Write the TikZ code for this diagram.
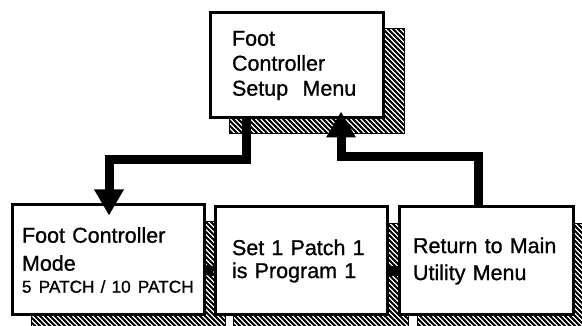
\documentclass[tikz,border=0pt]{standalone}
\usepackage{fontspec}
\setmainfont[FakeBold=0.9]{Liberation Sans}
\usetikzlibrary{arrows.meta,patterns,backgrounds}
\pgfdeclarepatternformonly{hatchnw}{\pgfqpoint{-1pt}{-1pt}}{\pgfqpoint{6pt}{6pt}}{\pgfqpoint{5pt}{5pt}}{%
  \pgfsetlinewidth{2pt}%
  \pgfpathmoveto{\pgfqpoint{-1pt}{6pt}}%
  \pgfpathlineto{\pgfqpoint{6pt}{-1pt}}%
  \pgfusepath{stroke}}
\newcommand{\bigtxt}{\fontsize{21.5}{25}\selectfont}
\newcommand{\smalltxt}{\fontsize{17.2}{20}\selectfont}
\tikzset{
  menubox/.style={draw, line width=3pt, fill=white, align=left, inner ysep=0pt, font=\bigtxt},
  shadowbox/.style={pattern=hatchnw, draw=black, line width=1.5pt},
  conn/.style={line width=9pt, line join=miter, line cap=butt},
  tip/.style={-{Triangle[width=28pt,length=26pt]}},
  link/.style={line width=10pt}
}
\begin{document}
\begin{tikzpicture}[x=1pt,y=-1pt]
\useasboundingbox (0,0) rectangle (582,326);
\clip (0,0) rectangle (582,326);

\node[menubox, minimum width=173pt, minimum height=105pt, inner xsep=22pt, text width=129pt] (top) at (296.5,65.5)
  {Foot\\ Controller\\ Setup\ \ Menu};
\node[menubox, minimum width=192pt, minimum height=110pt, inner xsep=10pt, text width=172pt] (b1) at (108,260)
  {Foot Controller\\[3pt] Mode\\[-3pt] \mbox{\smalltxt 5 PATCH\kern-1pt{} /\kern-1pt{} 10 PATCH}};
\node[menubox, minimum width=172pt, minimum height=108pt, inner xsep=17pt, text width=138pt] (b2) at (301,261)
  {Set 1 Patch 1\\[-2pt] is Program 1};
\node[menubox, minimum width=174pt, minimum height=108pt, inner xsep=14pt, text width=146pt] (b3) at (486,261)
  {Return to Main\\[2pt] Utility Menu};

\begin{scope}[on background layer]
  \fill[white] (0,0) rectangle (582,326);
  \path[shadowbox] ([shift={(21,17)}]top.north west) rectangle ([shift={(20,14)}]top.south east);
  \path[shadowbox] ([shift={(21,18)}]b1.north west) rectangle ([shift={(20,18)}]b1.south east);
  \path[shadowbox] ([shift={(20,18)}]b2.north west) rectangle ([shift={(20,18)}]b2.south east);
  \path[shadowbox] ([shift={(20,18)}]b3.north west) rectangle ([shift={(20,18)}]b3.south east);
\end{scope}

\draw[link] ([yshift=-10pt]b1.east) -- ([yshift=-10pt]b2.west);
\draw[link] ([yshift=-10pt]b2.east) -- ([yshift=-10pt]b3.west);

\draw[conn, tip] ([xshift=-50pt]top.south) -- ++(0,40) -| ([xshift=1pt,yshift=-12pt]b1.north);
\draw[conn, tip] ([xshift=-8pt]b3.north) -- ++(0,-49) -| ([xshift=44.5pt,yshift=8pt]top.south);
\end{tikzpicture}
\end{document}
